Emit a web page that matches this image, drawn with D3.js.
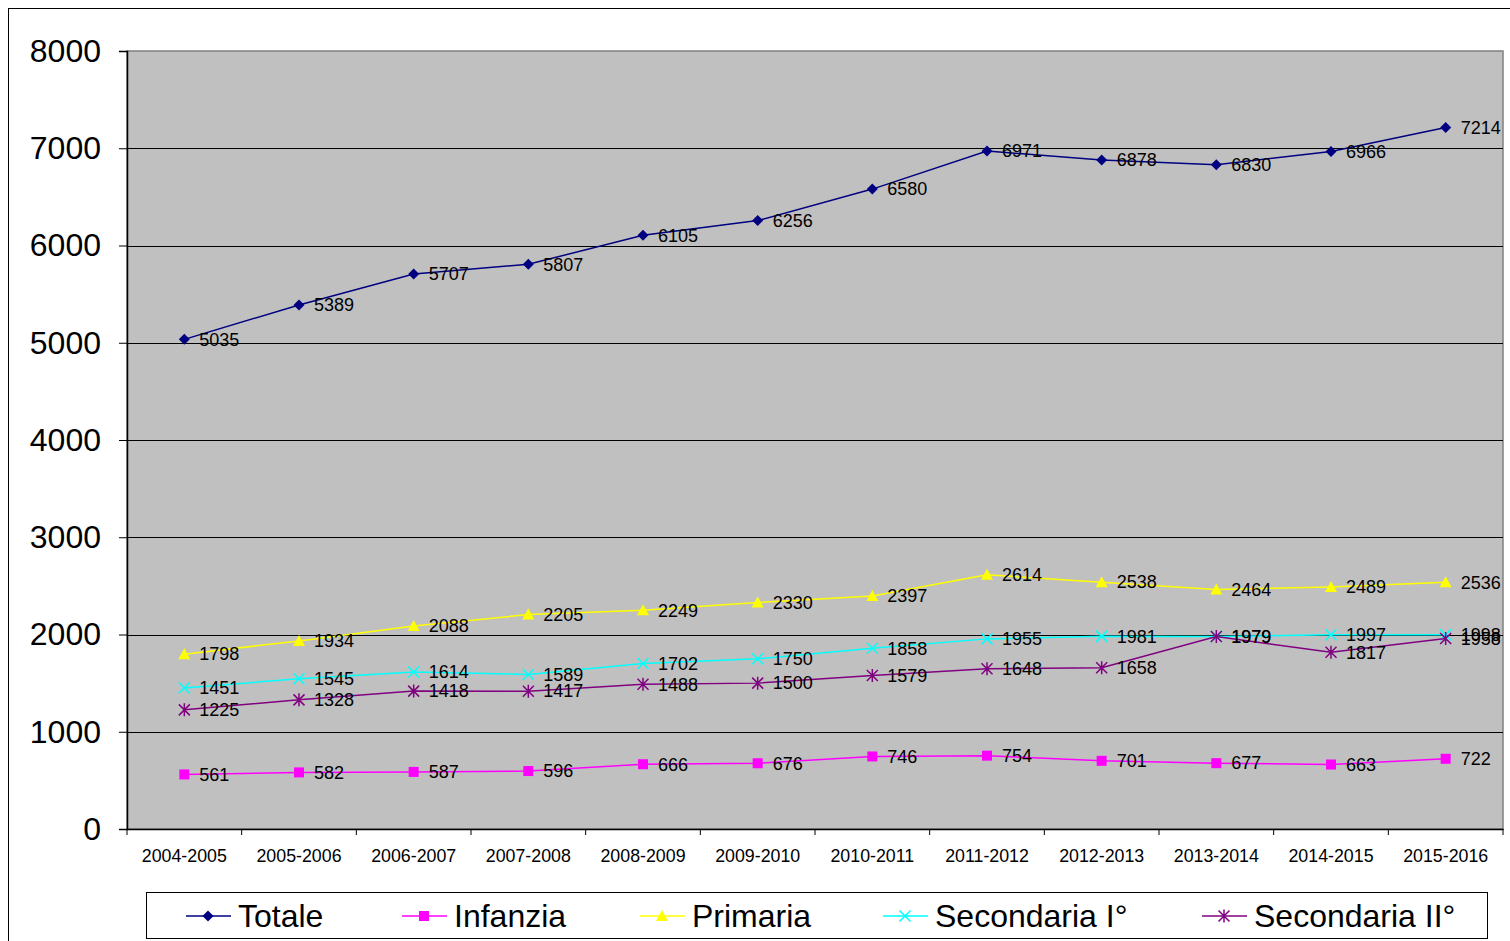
<!DOCTYPE html>
<html lang="it">
<head>
<meta charset="UTF-8">
<title>Iscritti</title>
<script src="https://d3js.org/d3.v7.min.js"></script>
<style>
  body { margin: 0; background: #fff; font-family: Arial, "Liberation Sans", sans-serif; }
</style>
</head>
<body>
<div id="chart"></div>
<script>
// categories and series values
const years = ["2004-2005", "2005-2006", "2006-2007", "2007-2008", "2008-2009", "2009-2010",
               "2010-2011", "2011-2012", "2012-2013", "2013-2014", "2014-2015", "2015-2016"];
const totale     = [5035, 5389, 5707, 5807, 6105, 6256, 6580, 6971, 6878, 6830, 6966, 7214];
const infanzia   = [561, 582, 587, 596, 666, 676, 746, 754, 701, 677, 663, 722];
const primaria   = [1798, 1934, 2088, 2205, 2249, 2330, 2397, 2614, 2538, 2464, 2489, 2536];
const secondaria1 = [1451, 1545, 1614, 1589, 1702, 1750, 1858, 1955, 1981, 1979, 1997, 1998];
const secondaria2 = [1225, 1328, 1418, 1417, 1488, 1500, 1579, 1648, 1658, 1979, 1817, 1958];
const yTicks = [0, 1000, 2000, 3000, 4000, 5000, 6000, 7000, 8000];

const series = [
  {name: "Totale", values: totale, color: "#000080", marker: "diamond"},
  {name: "Infanzia", values: infanzia, color: "#FF00FF", marker: "square"},
  {name: "Primaria", values: primaria, color: "#FFFF00", marker: "triangle"},
  {name: "Secondaria I°", values: secondaria1, color: "#00FFFF", marker: "x"},
  {name: "Secondaria II°", values: secondaria2, color: "#800080", marker: "star"}
];

const W = 1510, H = 941;
const plot = {left: 127, right: 1503, top: 51, bottom: 829};
const FONT = "Arial, 'Liberation Sans', sans-serif";

const svg = d3.select("#chart").append("svg")
  .attr("width", W).attr("height", H);

// outer frame
svg.append("rect")
  .attr("x", 8.5).attr("y", 8.5)
  .attr("width", W + 20).attr("height", H + 20)
  .attr("fill", "#fff").attr("stroke", "#000").attr("stroke-width", 1);

const x = d3.scaleBand().domain(years).range([plot.left, plot.right]);
const y = d3.scaleLinear().domain([0, 8000]).range([plot.bottom, plot.top]);
const cx = d => x(d) + x.bandwidth() / 2;

// plot area
svg.append("rect")
  .attr("x", plot.left).attr("y", plot.top)
  .attr("width", plot.right - plot.left).attr("height", plot.bottom - plot.top)
  .attr("fill", "#C0C0C0").attr("stroke", "#808080").attr("stroke-width", 1.5);

// gridlines
svg.append("g").selectAll("line")
  .data(yTicks.filter(t => t > 0 && t < 8000))
  .join("line")
  .attr("x1", plot.left).attr("x2", plot.right)
  .attr("y1", d => Math.round(y(d)) + 0.5).attr("y2", d => Math.round(y(d)) + 0.5)
  .attr("stroke", "#000").attr("stroke-width", 1);

// y axis
const yAxis = svg.append("g")
  .attr("transform", `translate(${plot.left},0)`)
  .call(d3.axisLeft(y).tickValues(yTicks).tickFormat(d3.format("d")).tickSize(8).tickPadding(18));
yAxis.select(".domain").attr("stroke", "#000").attr("stroke-width", 1.5);
yAxis.selectAll(".tick line").attr("stroke", "#000");
yAxis.selectAll("text").attr("font-size", 32).attr("font-family", FONT)
  .attr("fill", "#000");

// x axis
const xAxis = svg.append("g")
  .attr("transform", `translate(0,${plot.bottom})`)
  .call(d3.axisBottom(x).tickSize(0).tickPadding(20));
xAxis.select(".domain").attr("stroke", "#000").attr("stroke-width", 1.5);
xAxis.selectAll("text").attr("font-size", 17.8).attr("font-family", FONT)
  .attr("fill", "#000");
xAxis.selectAll(".boundary")
  .data(d3.range(years.length + 1))
  .join("line")
  .attr("x1", i => plot.left + i * x.bandwidth()).attr("x2", i => plot.left + i * x.bandwidth())
  .attr("y1", 0).attr("y2", 6)
  .attr("stroke", "#000");

function drawMarker(g, type, color) {
  if (type === "diamond") {
    g.append("path").attr("d", "M0,-5.5L5.5,0L0,5.5L-5.5,0Z").attr("fill", color);
  } else if (type === "square") {
    g.append("rect").attr("x", -5).attr("y", -5).attr("width", 10).attr("height", 10).attr("fill", color);
  } else if (type === "triangle") {
    g.append("path").attr("d", "M0,-6L6,5L-6,5Z").attr("fill", color);
  } else if (type === "x") {
    g.append("path").attr("d", "M-5.5,-5.5L5.5,5.5M-5.5,5.5L5.5,-5.5").attr("stroke", color).attr("stroke-width", 1.5);
  } else if (type === "star") {
    g.append("path").attr("d", "M-5.5,-5.5L5.5,5.5M-5.5,5.5L5.5,-5.5M0,-6.5L0,6.5").attr("stroke", color).attr("stroke-width", 1.5);
  }
}

const line = d3.line().x((d, i) => cx(years[i])).y(d => y(d));

series.forEach(s => {
  const g = svg.append("g");
  g.append("path").datum(s.values)
    .attr("d", line).attr("fill", "none")
    .attr("stroke", s.color).attr("stroke-width", 1.5);
  s.values.forEach((v, i) => {
    const m = g.append("g").attr("transform", `translate(${cx(years[i])},${y(v)})`);
    drawMarker(m, s.marker, s.color);
  });
  g.selectAll("text.lbl").data(s.values).join("text")
    .attr("class", "lbl")
    .attr("x", (d, i) => cx(years[i]) + 15)
    .attr("y", d => y(d))
    .attr("dy", "0.35em")
    .attr("font-size", 18)
    .attr("font-family", FONT)
    .attr("fill", "#000")
    .text(d => d);
});

// legend
const legend = svg.append("g");
legend.append("rect")
  .attr("x", 146.5).attr("y", 892.5).attr("width", 1341).attr("height", 46)
  .attr("fill", "#fff").attr("stroke", "#000");
const legendX = [186, 402, 640, 883, 1202];
series.forEach((s, i) => {
  const lg = legend.append("g").attr("transform", `translate(${legendX[i]},916)`);
  lg.append("line").attr("x1", 0).attr("x2", 45).attr("y1", 0).attr("y2", 0)
    .attr("stroke", s.color).attr("stroke-width", 1.5);
  const m = lg.append("g").attr("transform", "translate(22,0)");
  drawMarker(m, s.marker, s.color);
  lg.append("text").attr("x", 52).attr("y", 0).attr("dy", "0.35em")
    .attr("font-size", 32).attr("font-family", FONT)
    .attr("fill", "#000").text(s.name);
});
</script>
</body>
</html>
